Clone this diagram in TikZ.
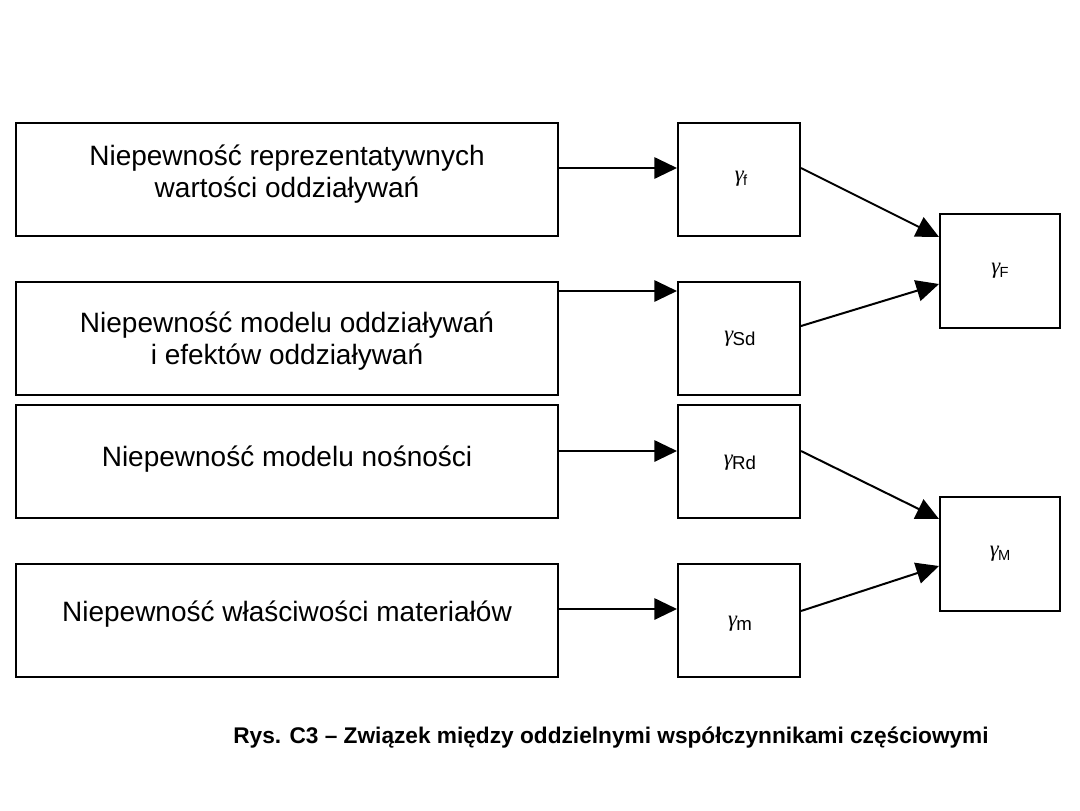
\documentclass[tikz,border=0pt]{standalone}
\usepackage{fontspec}
\setmainfont{Liberation Sans}
\newfontfamily\gfont{Liberation Serif}
\usetikzlibrary{arrows.meta}
\newcommand{\gam}[2]{{\gfont\itshape γ}\kern-0.5pt\raisebox{-2.5pt}{\fontsize{#2}{#2}\selectfont #1}}
\begin{document}
\begin{tikzpicture}[x=0.75pt,y=-0.75pt,
  bigbox/.style={draw,line width=1.5pt,minimum width=406.5pt,minimum height=84.75pt,inner sep=0pt},
  gbox/.style={draw,line width=1.5pt,minimum width=91.5pt,minimum height=84.75pt,inner sep=0pt},
  rbox/.style={draw,line width=1.5pt,minimum width=90pt,minimum height=85.5pt,inner sep=0pt},
  txt/.style={font=\fontsize{21pt}{24.5pt}\selectfont,align=center,inner sep=0pt},
  gtxt/.style={font=\fontsize{17pt}{19pt}\selectfont,inner sep=0pt},
  arr/.style={line width=1.5pt,-{Triangle[length=17pt,width=16pt]}},
  captxt/.style={font=\fontsize{17pt}{20pt}\selectfont\bfseries,inner sep=0pt}]
\useasboundingbox (0,0) rectangle (1080,810);
% left boxes
\node[bigbox] (b1) at (287,179.5) {};
\node[bigbox] (b2) at (287,338.5) {};
\node[bigbox] (b3) at (287,461) {};
\node[bigbox] (b4) at (287,620) {};
\node[txt] (t1) at (287,174) {Niepewność reprezentatywnych\\wartości oddziaływań};
\node[txt] (t2) at (287,341) {Niepewność modelu oddziaływań\\i efektów oddziaływań};
\node[txt] (t3) at (287,459) {Niepewność modelu nośności};
\node[txt] (t4) at (287,614) {Niepewność właściwości materiałów};
% gamma boxes
\node[gbox] (g1) at (739,179.5) {};
\node[gbox] (g2) at (739,338.5) {};
\node[gbox] (g3) at (739,461) {};
\node[gbox] (g4) at (739,620) {};
\node[gtxt] (gt1) at (741,179) {\gam{f}{11pt}};
\node[gtxt] (gt2) at (740,339) {\gam{Sd}{14pt}};
\node[gtxt] (gt3) at (740,463) {\gam{Rd}{14pt}};
\node[gtxt] (gt4) at (740,624) {\gam{m}{14pt}};
% right boxes
\node[rbox] (F) at (1000,271) {};
\node[rbox] (M) at (1000,554) {};
\node[gtxt] (Ft) at (1000,271) {\gam{F}{11pt}};
\node[gtxt] (Mt) at (1000,554) {\gam{M}{11pt}};
% arrow levels
\coordinate (a1) at (0,168);
\coordinate (a2) at (0,291);
\coordinate (a3) at (0,451);
\coordinate (a4) at (0,609);
\coordinate (f1) at (0,237);
\coordinate (f2) at (0,284);
\coordinate (m1) at (0,519);
\coordinate (m2) at (0,566);
\coordinate (s2) at (0,326);
\coordinate (s4) at (0,611);
\draw[arr] (b1.east |- a1) -- (g1.west |- a1);
\draw[arr] (b2.east |- a2) -- (g2.west |- a2);
\draw[arr] (b3.east |- a3) -- (g3.west |- a3);
\draw[arr] (b4.east |- a4) -- (g4.west |- a4);
\draw[arr] (g1.east |- a1) -- (F.west |- f1);
\draw[arr] (g2.east |- s2) -- (F.west |- f2);
\draw[arr] (g3.east |- a3) -- (M.west |- m1);
\draw[arr] (g4.east |- s4) -- (M.west |- m2);
\node[captxt] (c) at (611,738) {Rys. C3 – Związek między oddzielnymi współczynnikami częściowymi};
\end{tikzpicture}
\end{document}
